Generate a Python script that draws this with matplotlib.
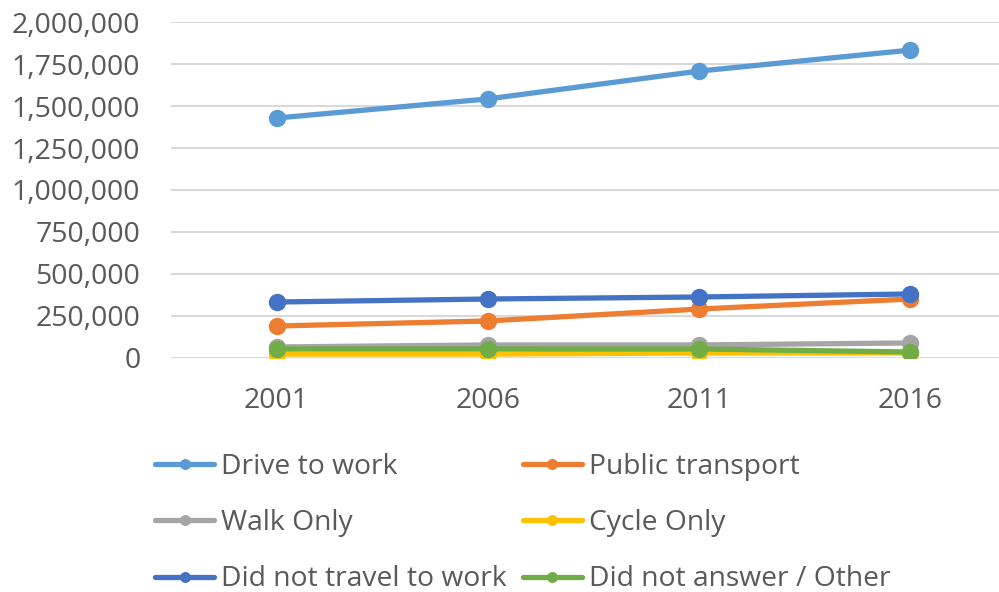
import matplotlib
matplotlib.use("Agg")
import matplotlib.pyplot as plt
from matplotlib.ticker import FuncFormatter

years = ["2001", "2006", "2011", "2016"]
drive = [1429000, 1543000, 1709000, 1834000]
public_transport = [189000, 219000, 290000, 350000]
walk_only = [64000, 76000, 76000, 88000]
cycle_only = [22000, 22000, 28000, 28000]
did_not_travel = [332000, 350000, 362000, 380000]
other = [52000, 52000, 52000, 34000]

labels = ["Drive to work", "Public transport", "Walk Only", "Cycle Only",
          "Did not travel to work", "Did not answer / Other"]
colors = ["#5B9BD5", "#ED7D31", "#A5A5A5", "#FFC000", "#4472C4", "#70AD47"]
series = [drive, public_transport, walk_only, cycle_only, did_not_travel, other]

plt.rcParams['font.family'] = ['Open Sans', 'DejaVu Sans']
txt = "#595959"

fig = plt.figure(figsize=(9.99, 5.92), dpi=100)
ax = fig.add_axes([171/999, 1-357.7/592, (1015.5-171)/999, (357.7-22.3)/592])

x = list(range(len(years)))
handles = []
for s, lab, c in zip(series, labels, colors):
    h, = ax.plot(x, s, color=c, lw=3.8, marker='o', ms=11.5, label=lab,
                 solid_capstyle='round', zorder=3)
    handles.append(h)

ax.set_xlim(-0.5, 3.5)
ax.set_ylim(0, 2000000)
ax.set_yticks(range(0, 2000001, 250000))
ax.yaxis.set_major_formatter(FuncFormatter(lambda v, p: f"{int(v):,}"))
ax.set_xticks(x)
ax.set_xticklabels(years)
ax.grid(axis='y', color='#D9D9D9', lw=1.5)
ax.set_axisbelow(True)
for sp in ax.spines.values():
    sp.set_visible(False)
ax.tick_params(axis='both', length=0, labelsize=20.5, labelcolor=txt)
ax.tick_params(axis='y', pad=22)
ax.tick_params(axis='x', pad=21)

order = [0, 2, 4, 1, 3, 5]
leg = fig.legend([handles[i] for i in order], [labels[i] for i in order],
                 ncol=2, loc='upper left', bbox_to_anchor=(155/999, 1-453/592),
                 frameon=False, fontsize=20.3, handlelength=2.1,
                 handletextpad=0.25, columnspacing=0.55, labelspacing=1.0,
                 borderpad=0, borderaxespad=0, markerscale=0.6)
for t in leg.get_texts():
    t.set_color(txt)

fig.savefig("out.png", dpi=100)
